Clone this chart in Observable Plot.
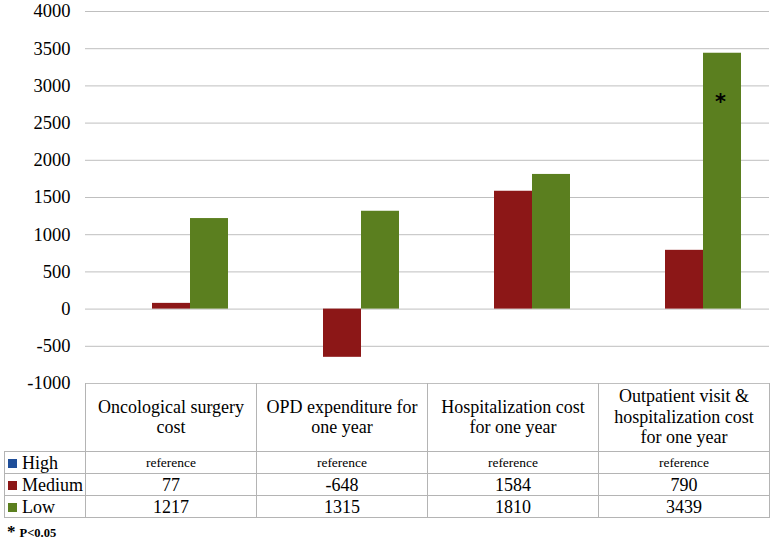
<!DOCTYPE html>
<html>
<head>
<meta charset="utf-8">
<script src="https://cdn.jsdelivr.net/npm/d3@7"></script>
<script src="https://cdn.jsdelivr.net/npm/@observablehq/plot@0.6"></script>
<style>
  html, body { margin: 0; padding: 0; background: #fff; }
  #wrap { position: relative; width: 773px; height: 541px; font-family: "Liberation Serif", serif; color: #000; }
  #wrap svg { position: absolute; left: 0; top: 0; }
  table { position: absolute; left: 4px; top: 383px; border-collapse: collapse; table-layout: fixed; }
  td { border: 1px solid #b4b4b4; padding: 0 5px; text-align: center; vertical-align: middle; font-size: 18px; line-height: 20.5px; overflow: hidden; }
  td.corner { border-top: none; border-left: none; }
  tr.head td { height: 68px; border-top: none; }
  tr.r td { height: 21px; line-height: 20px; }
  td.lab { text-align: left; padding-left: 3px; padding-right: 0; font-size: 18px; white-space: nowrap; }
  td.ref { font-size: 13.5px; }
  .sw { display: inline-block; width: 9px; height: 9px; margin-right: 5px; vertical-align: 1px; }
  #foot { position: absolute; left: 7px; top: 522px; font-weight: bold; white-space: nowrap; }
  #foot .ast { font-size: 17px; }
  #foot .p { font-size: 12.5px; }
</style>
</head>
<body>
<div id="wrap"></div>
<script>
// ---- data ----
const categories = [
  "Oncological surgery cost",
  "OPD expenditure for one year",
  "Hospitalization cost for one year",
  "Outpatient visit & hospitalization cost for one year"
];
const groups = ["High", "Medium", "Low"];
const highLabels = ["reference", "reference", "reference", "reference"];
const mediumValues = [77, -648, 1584, 790];
const lowValues = [1217, 1315, 1810, 3439];
const lowSignificance = ["", "", "", "*"];
const yTicks = [-1000, -500, 0, 500, 1000, 1500, 2000, 2500, 3000, 3500, 4000];
const groupColors = ["#1f4e99", "#8c1717", "#5b7f1f"];
const footnoteMark = "*";
const footnoteText = "P<0.05";

// ---- build rows ----
const rows = [];
categories.forEach((c, i) => {
  rows.push({category: c, group: "Medium", value: mediumValues[i]});
  rows.push({category: c, group: "Low", value: lowValues[i]});
});
const sigRows = categories.map((c, i) => ({category: c, group: "Low", value: lowValues[i], sig: lowSignificance[i]}))
  .filter(d => d.sig);

const chart = Plot.plot({
  width: 773,
  height: 541,
  marginTop: 11,
  marginBottom: 158,
  marginLeft: 85,
  marginRight: 4,
  style: {fontFamily: "'Liberation Serif', serif", fontSize: "18px", color: "#000", background: "transparent", overflow: "visible"},
  fx: {domain: categories, padding: 0, axis: null, label: null},
  x: {domain: groups, paddingInner: 0, paddingOuter: 0.75, axis: null, label: null},
  y: {domain: [-1000, 4000], axis: null},
  color: {domain: groups, range: groupColors},
  marks: [
    Plot.ruleY(yTicks, {stroke: "#bfbfbf", strokeWidth: 1}),
    Plot.barY(rows, {fx: "category", x: "group", y: "value", fill: "group"}),
    Plot.text(sigRows, {fx: "category", x: "group", y: "value", text: "sig", dy: 49, dx: -2, fontWeight: "bold", fontSize: 21, fontFamily: "'DejaVu Sans', sans-serif", fill: "#000"}),
    Plot.axisY(yTicks, {anchor: "left", tickSize: 0, tickPadding: 15, tickFormat: d => String(d), label: null, line: true, stroke: "#bfbfbf", fill: "#000", fontSize: 18.5})
  ]
});

const wrap = document.getElementById("wrap");
wrap.appendChild(chart);

// ---- data table ----
const table = document.createElement("table");
const colg = document.createElement("colgroup");
[81, 171, 171, 171, 171].forEach(w => { const col = document.createElement("col"); col.style.width = w + "px"; colg.appendChild(col); });
table.appendChild(colg);

const head = document.createElement("tr");
head.className = "head";
const corner = document.createElement("td");
corner.className = "corner";
head.appendChild(corner);
categories.forEach(c => { const td = document.createElement("td"); td.textContent = c; head.appendChild(td); });
table.appendChild(head);

const seriesRows = [
  {name: "High", vals: highLabels, ref: true},
  {name: "Medium", vals: mediumValues, ref: false},
  {name: "Low", vals: lowValues, ref: false}
];
seriesRows.forEach((s, si) => {
  const tr = document.createElement("tr");
  tr.className = "r";
  const lab = document.createElement("td");
  lab.className = "lab";
  const sw = document.createElement("span");
  sw.className = "sw";
  sw.style.background = groupColors[si];
  lab.appendChild(sw);
  lab.appendChild(document.createTextNode(s.name));
  tr.appendChild(lab);
  s.vals.forEach(v => {
    const td = document.createElement("td");
    if (s.ref) td.className = "ref";
    td.textContent = String(v);
    tr.appendChild(td);
  });
  table.appendChild(tr);
});
wrap.appendChild(table);

const foot = document.createElement("div");
foot.id = "foot";
foot.innerHTML = `<span class="ast"></span> <span class="p"></span>`;
foot.querySelector(".ast").textContent = footnoteMark;
foot.querySelector(".p").textContent = footnoteText;
wrap.appendChild(foot);
</script>
</body>
</html>
